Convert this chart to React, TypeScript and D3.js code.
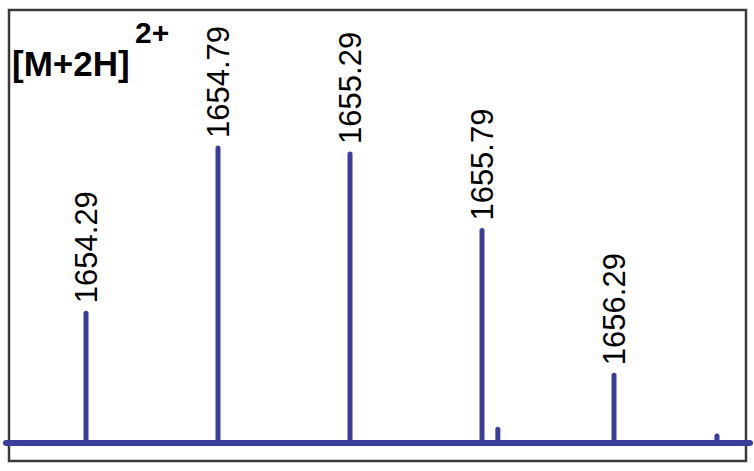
import React, { useEffect, useRef } from 'react'
import * as d3 from 'd3'

// peak list (m/z, relative intensity)
const mzValues = [1654.29, 1654.79, 1655.29, 1655.79, 1655.85, 1656.29, 1656.68]
const intensities = [44, 100, 98, 72, 4.7, 23, 2.4]
const peakLabels = ['1654.29', '1654.79', '1655.29', '1655.79', '', '1656.29', '']

const ionLabel = '[M+2H]'
const chargeLabel = '2+'

const W = 754
const H = 471

const App = () => {
  const svgRef = useRef<SVGSVGElement | null>(null)
  const blue = '#393d9c'
  const font = "'Liberation Sans', Arial, Helvetica, sans-serif"

  useEffect(() => {
    const svg = d3.select(svgRef.current)
    svg.selectAll('*').remove()

    const x = d3.scaleLinear().domain([1654.29, 1656.29]).range([86, 614])
    const y = d3.scaleLinear().domain([0, 100]).range([443, 148])

    // frame
    svg
      .append('rect')
      .attr('x', 9)
      .attr('y', 10)
      .attr('width', 737)
      .attr('height', 451)
      .style('fill', 'none')
      .style('stroke', '#3a3a3a')
      .style('stroke-width', 2.5)

    // peaks
    svg
      .selectAll('line.peak')
      .data(mzValues)
      .enter()
      .append('line')
      .attr('class', 'peak')
      .attr('x1', (d) => x(d))
      .attr('x2', (d) => x(d))
      .attr('y1', y(0))
      .attr('y2', (d, i) => y(intensities[i]))
      .style('stroke', blue)
      .style('stroke-width', 5)
      .style('stroke-linecap', 'round')

    // baseline
    svg
      .append('line')
      .attr('x1', 6)
      .attr('x2', 750)
      .attr('y1', y(0))
      .attr('y2', y(0))
      .style('stroke', blue)
      .style('stroke-width', 6)
      .style('stroke-linecap', 'round')

    // peak labels (rotated)
    mzValues.forEach((d, i) => {
      if (!peakLabels[i]) return
      svg
        .append('text')
        .attr('transform', `translate(${x(d)}, ${y(intensities[i]) - 10}) rotate(-90)`)
        .attr('dy', '0.36em')
        .style('font-family', font)
        .style('font-size', '31px')
        .style('fill', '#000')
        .style('text-anchor', 'start')
        .text(peakLabels[i])
    })

    // ion annotation
    svg
      .append('text')
      .attr('x', 12)
      .attr('y', 76)
      .style('font-family', font)
      .style('font-size', '35px')
      .style('font-weight', 'bold')
      .text(ionLabel)

    svg
      .append('text')
      .attr('x', 135)
      .attr('y', 43)
      .style('font-family', font)
      .style('font-size', '30px')
      .style('font-weight', 'bold')
      .text(chargeLabel)
  }, [])

  return (
    <svg
      ref={svgRef}
      width={W}
      height={H}
      style={{ position: 'absolute', left: 0, top: 0, background: '#fff' }}
    ></svg>
  )
}

export default App
